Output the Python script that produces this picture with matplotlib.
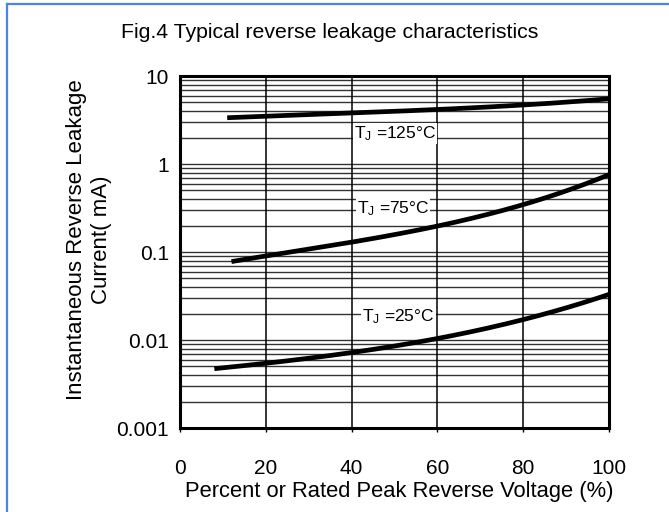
import matplotlib
matplotlib.use("Agg")
import matplotlib.pyplot as plt
from matplotlib.ticker import FixedLocator, NullFormatter
from matplotlib.lines import Line2D
import numpy as np

plt.rcParams['font.family'] = ['Liberation Sans Narrow', 'Liberation Sans', 'DejaVu Sans']
plt.rcParams['mathtext.fontset'] = 'custom'
plt.rcParams['mathtext.rm'] = 'Liberation Sans Narrow'

title = "Fig.4 Typical reverse leakage characteristics"
xlabel = "Percent or Rated Peak Reverse Voltage (%)"
ylabel = "Instantaneous Reverse Leakage\nCurrent( mA)"

x_ticks = [0, 20, 40, 60, 80, 100]
x_tick_labels = ["0", "20", "40", "60", "80", "100"]
y_ticks = [0.001, 0.01, 0.1, 1, 10]
y_tick_labels = ["0.001", "0.01", "0.1", "1", "10"]

x125 = [11, 20, 40, 60, 80, 100]
y125 = [3.35, 3.5, 3.8, 4.15, 4.7, 5.5]
x75 = [12, 20, 40, 60, 80, 100]
y75 = [0.079, 0.088, 0.13, 0.2, 0.34, 0.76]
x25 = [8, 20, 40, 60, 80, 100]
y25 = [0.0047, 0.0055, 0.0071, 0.0105, 0.017, 0.033]

labels = ["$\\mathregular{T_J}$ =125°C", "$\\mathregular{T_J}$ =75°C", "$\\mathregular{T_J}$ =25°C"]
label_pos = [(40.5, 2.2), (41.2, 0.31), (42.5, 0.0185)]

fig = plt.figure(figsize=(6.69, 5.12), dpi=100)
ax = fig.add_axes([180/669, 1-428/512, 429/669, 352/512])
ax.set_yscale('log')
ax.set_xlim(0, 100)
ax.set_ylim(0.001, 10)

# grid
for yv in np.concatenate([np.arange(1, 10) * 10.0**e for e in range(-3, 1)]):
    if 0.001 < yv < 10:
        ax.axhline(yv, color='#333333', lw=1.0, zorder=1)
for xv in [20, 40, 60, 80]:
    ax.axvline(xv, color='black', lw=1.1, zorder=1)

for xs, ys in [(x125, y125), (x75, y75), (x25, y25)]:
    xx = np.linspace(xs[0], xs[-1], 200)
    coef = np.polyfit(xs, np.log10(ys), 3)
    yy = 10 ** np.polyval(coef, xx)
    ax.plot(xx, yy, color='black', lw=3.4, solid_capstyle='butt', zorder=3)

for lab, (lx, ly) in zip(labels, label_pos):
    ax.text(lx, ly, lab, fontsize=12.5, va='center', ha='left', zorder=4,
            bbox=dict(facecolor='white', edgecolor='none', pad=0.8))

ax.set_xticks(x_ticks)
ax.set_xticklabels(x_tick_labels, fontsize=15)
ax.yaxis.set_major_locator(FixedLocator(y_ticks))
ax.set_yticklabels(y_tick_labels, fontsize=15)
ax.yaxis.set_minor_locator(FixedLocator([]))
ax.yaxis.set_minor_formatter(NullFormatter())
ax.tick_params(axis='x', direction='out', length=3, width=1, pad=19)
ax.tick_params(axis='y', length=0, pad=8)
for s in ax.spines.values():
    s.set_linewidth(2.2)
    s.set_zorder(5)

fig.text(399/669, 1-491/512, xlabel, fontsize=15.8, ha='center', va='center')
fig.text(89/669, 1-240/512, ylabel, fontsize=16, rotation=90, ha='center', va='center',
         multialignment='center', linespacing=1.25)
fig.text(330/669, 1-33/512, title, fontsize=15.3, ha='center', va='center',
         family=['Liberation Sans', 'DejaVu Sans'])

# blue frame lines (top and left)
fig.add_artist(Line2D([7/669, 7/669], [0, 1-4/512], transform=fig.transFigure, color='#4a86e8', lw=1.6))
fig.add_artist(Line2D([7/669, 1], [1-4/512, 1-4/512], transform=fig.transFigure, color='#4a86e8', lw=1.6))

fig.savefig("out.png", dpi=100)
